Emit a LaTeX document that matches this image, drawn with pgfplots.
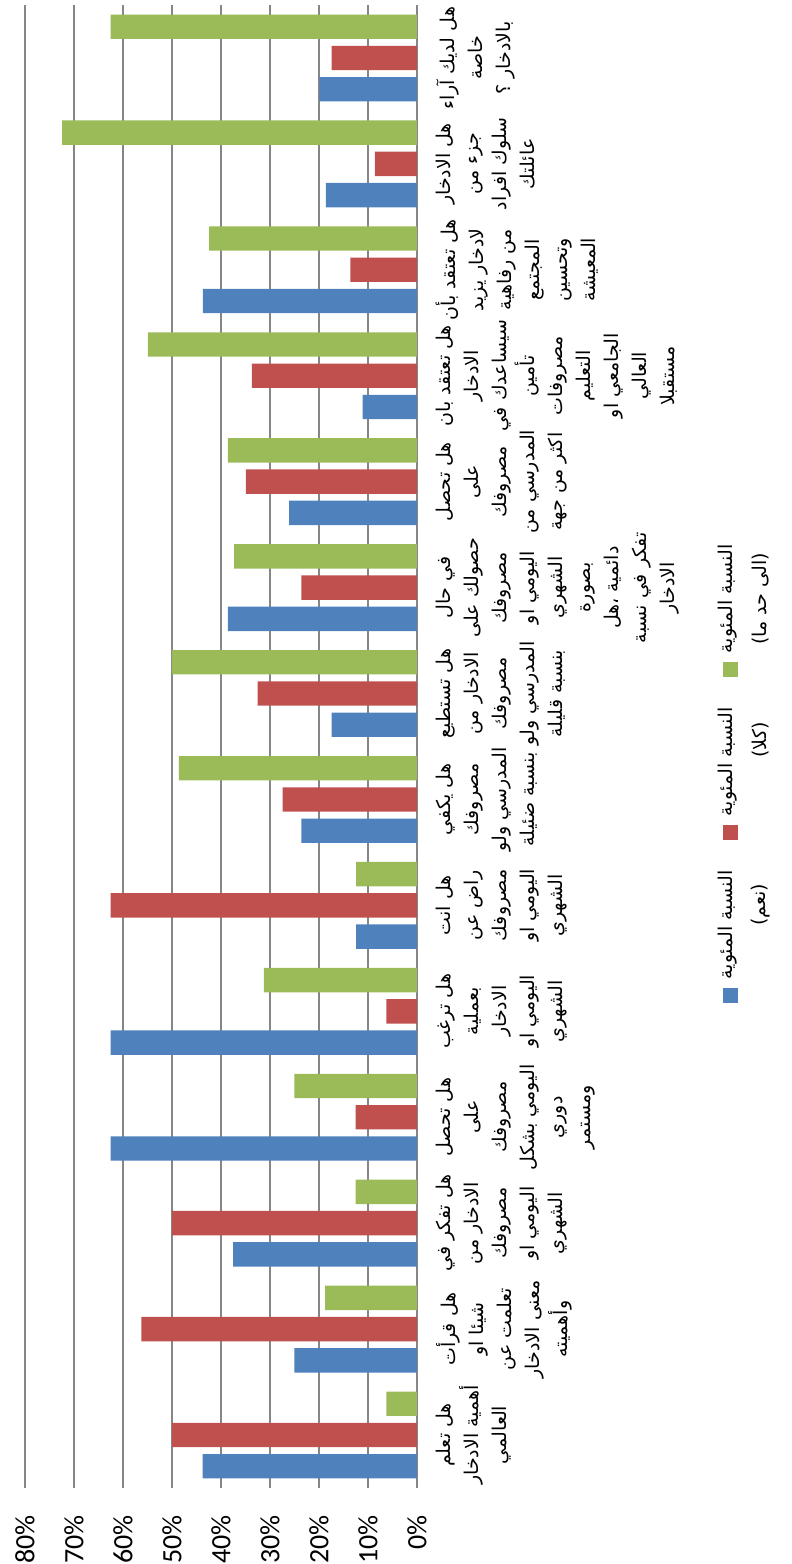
\documentclass[border=0pt]{standalone}
\usepackage{fontspec}
\setmainfont{Carlito}
\newfontfamily\arabicfont[Script=Arabic]{DejaVu Sans}
\TeXXeTstate=1
\usepackage{pgfplots}
\usepackage{pgfplotstable}
\pgfplotsset{compat=1.18}
\definecolor{exblue}{HTML}{4F81BD}
\definecolor{exred}{HTML}{C0504D}
\definecolor{exgreen}{HTML}{9BBB59}
\definecolor{gridgray}{HTML}{868686}

\pgfplotstableread{
cat yes no some
1  43.75 50.0  6.25
2  25.0  56.25 18.75
3  37.5  50.0  12.5
4  62.5  12.5  25.0
5  62.5  6.25  31.25
6  12.4  62.5  12.4
7  23.6  27.4  48.6
8  17.4  32.5  50.0
9  38.6  23.6  37.3
10 26.1  34.9  38.6
11 11.1  33.7  54.9
12 43.7  13.6  42.4
13 18.6  8.6   72.4
14 19.9  17.4  62.5
}\data

\begin{document}
\begin{tikzpicture}
\useasboundingbox (-12.5pt,-38pt) rectangle (383.5pt,744pt);
\begin{axis}[
  at={(0pt,0pt)}, anchor=south west,
  scale only axis,
  width=196pt, height=741.5pt,
  xbar,
  x dir=reverse,
  xmin=0, xmax=80,
  ymin=0.5, ymax=14.5,
  enlargelimits=false,
  axis line style={draw=none},
  major tick length=0pt,
  xmajorgrids,
  grid style={color=gridgray, line width=1pt},
  xtick={0,10,20,30,40,50,60,70,80},
  xticklabels={0\%,10\%,20\%,30\%,40\%,50\%,60\%,70\%,80\%},
  xticklabel style={yshift=-13.5pt, rotate=90, anchor=east, inner sep=0pt, font=\fontsize{14}{16}\selectfont},
  ytick={1,...,14},
  yticklabel pos=right,
  yticklabels={
{\beginR هل تعلم\endR\\\beginR أهمية الادخار\endR\\\beginR العالمي\endR},
{\beginR هل قرأت\endR\\\beginR شيئا او\endR\\\beginR تعلمت عن\endR\\\beginR معنى الادخار\endR\\\beginR وأهميته\endR},
{\beginR هل تفكر في\endR\\\beginR الادخار من\endR\\\beginR مصروفك\endR\\\beginR اليومي او\endR\\\beginR الشهري\endR},
{\beginR هل تحصل\endR\\\beginR على\endR\\\beginR مصروفك\endR\\\beginR اليومي بشكل\endR\\\beginR دوري\endR\\\beginR ومستمر\endR},
{\beginR هل ترغب\endR\\\beginR بعملية\endR\\\beginR الادخار\endR\\\beginR اليومي او\endR\\\beginR الشهري\endR},
{\beginR هل انت\endR\\\beginR راض عن\endR\\\beginR مصروفك\endR\\\beginR اليومي او\endR\\\beginR الشهري\endR},
{\beginR هل يكفي\endR\\\beginR مصروفك\endR\\\beginR المدرسي ولو\endR\\\beginR بنسبة ضئيلة\endR},
{\beginR هل تستطيع\endR\\\beginR الادخار من\endR\\\beginR مصروفك\endR\\\beginR المدرسي ولو\endR\\\beginR بنسبة قليلة\endR},
{\beginR في حال\endR\\\beginR حصولك على\endR\\\beginR مصروفك\endR\\\beginR اليومي او\endR\\\beginR الشهري\endR\\\beginR بصورة\endR\\\beginR دائمية ،هل\endR\\\beginR تفكر في نسبة\endR\\\beginR الادخار\endR},
{\beginR هل تحصل\endR\\\beginR على\endR\\\beginR مصروفك\endR\\\beginR المدرسي من\endR\\\beginR اكثر من جهة\endR},
{\beginR هل تعتقد بان\endR\\\beginR الادخار\endR\\\beginR سيساعدك في\endR\\\beginR تأمين\endR\\\beginR مصروفات\endR\\\beginR التعليم\endR\\\beginR الجامعي او\endR\\\beginR العالي\endR\\\beginR مستقبلا\endR},
{\beginR هل تعتقد بأن\endR\\\beginR لادخار يزيد\endR\\\beginR من رفاهية\endR\\\beginR المجتمع\endR\\\beginR وتحسين\endR\\\beginR المعيشة\endR},
{\beginR هل الادخار\endR\\\beginR جزء من\endR\\\beginR سلوك افراد\endR\\\beginR عائلتك\endR},
{\beginR هل لديك آراء\endR\\\beginR خاصة\endR\\\beginR بالادخار ؟\endR}
  },
  yticklabel style={xshift=9.5pt, rotate=90, anchor=north, inner sep=0pt, align=center, font=\arabicfont\fontsize{9.5}{14}\selectfont},
]
\addplot[fill=exblue, draw=none, bar width=0.23, bar shift=-0.295] table[x=yes, y=cat]{\data};
\addplot[fill=exred, draw=none, bar width=0.23, bar shift=0] table[x=no, y=cat]{\data};
\addplot[fill=exgreen, draw=none, bar width=0.23, bar shift=0.295] table[x=some, y=cat]{\data};
\end{axis}
% legend
\begin{scope}[every node/.style={rotate=90, inner sep=0pt, font=\arabicfont\fontsize{9.5}{14}\selectfont}]
\fill[exgreen] (348.75pt,405.5pt) rectangle ++(7.5pt,7.5pt);
\node at (351.5pt,444.5pt) {\beginR النسبة المئوية\endR};
\node at (368pt,444.5pt) {\beginR (الى حد ما)\endR};
\fill[exred] (348.75pt,324pt) rectangle ++(7.5pt,7.5pt);
\node at (351.5pt,363pt) {\beginR النسبة المئوية\endR};
\node at (368pt,374pt) {\beginR (كلا)\endR};
\fill[exblue] (348.75pt,242.5pt) rectangle ++(7.5pt,7.5pt);
\node at (351.5pt,281.5pt) {\beginR النسبة المئوية\endR};
\node at (368pt,291.5pt) {\beginR (نعم)\endR};
\end{scope}
\end{tikzpicture}
\end{document}
